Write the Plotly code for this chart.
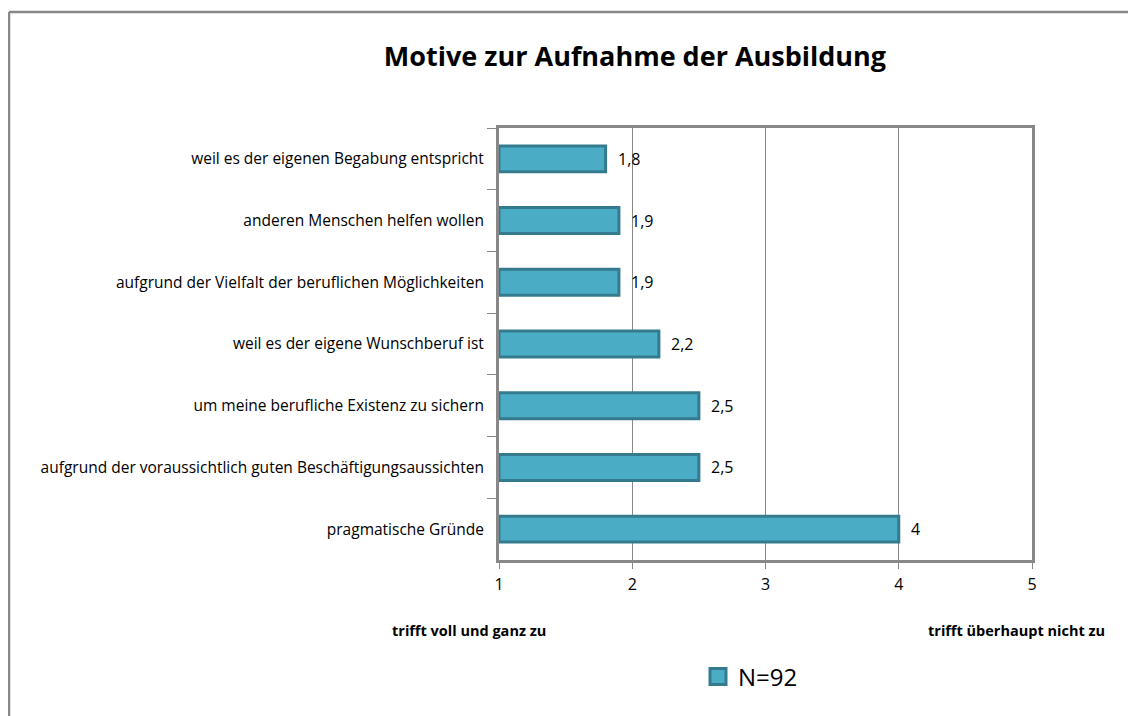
import plotly.graph_objects as go

categories = [
    "weil es der eigenen Begabung entspricht",
    "anderen Menschen helfen wollen",
    "aufgrund der Vielfalt der beruflichen Möglichkeiten",
    "weil es der eigene Wunschberuf ist",
    "um meine berufliche Existenz zu sichern",
    "aufgrund der voraussichtlich guten Beschäftigungsaussichten",
    "pragmatische Gründe",
]
values = [1.8, 1.9, 1.9, 2.2, 2.5, 2.5, 4]
x_ticks = [1, 2, 3, 4, 5]
series_name = "N=92"

FONT = "Open Sans"
base = 1
BAR = "#4BACC6"
EDGE = "#347B8E"

# figure is placed at (8,8) in the page by the browser body margin
W, H = 1128, 708
L, T = 491, 120
PW, PH = 533, 432
R = W - L - PW
B = H - T - PH


def px(xf):
    return (xf - L) / PW


def py(yf):
    return 1 - (yf - T) / PH


fig = go.Figure()
fig.add_trace(go.Bar(
    y=categories,
    x=[v - base for v in values],
    base=base,
    orientation="h",
    name=series_name,
    showlegend=False,
    marker=dict(color=BAR, line=dict(color=EDGE, width=3)),
    width=0.42,
    hoverinfo="skip",
))
# legend-only entry with a larger square symbol
fig.add_trace(go.Scatter(
    x=[None], y=[None], mode="markers", name=series_name,
    marker=dict(symbol="square", size=16, color=BAR, line=dict(color=EDGE, width=3)),
    showlegend=True,
))

annotations = []
for c, v in zip(categories, values):
    annotations.append(dict(
        x=v, y=c, xref="x", yref="y", text=("%g" % v).replace(".", ","),
        showarrow=False, xanchor="left", yanchor="middle", xshift=10,
        font=dict(family=FONT, size=16, color="#000")))

annotations += [
    dict(text="<b>trifft voll und ganz zu</b>", xref="paper", yref="paper",
         x=px(461), y=py(622), xanchor="center", yanchor="middle",
         showarrow=False, font=dict(family=FONT, size=14.5, color="#000")),
    dict(text="<b>trifft überhaupt nicht zu</b>", xref="paper", yref="paper",
         x=px(1008), y=py(622), xanchor="center", yanchor="middle",
         showarrow=False, font=dict(family=FONT, size=14.5, color="#000")),
]

fig.update_layout(
    width=W, height=H,
    margin=dict(l=L, r=R, t=T, b=B),
    paper_bgcolor="white", plot_bgcolor="white",
    font=dict(family=FONT, size=15.5, color="#000"),
    title=dict(text="<b>Motive zur Aufnahme der Ausbildung</b>",
               x=627 / W, xanchor="center", y=1 - 49 / H, yanchor="middle",
               font=dict(family=FONT, size=27, color="#000")),
    showlegend=True,
    legend=dict(x=px(690), xanchor="left", y=py(669), yanchor="middle",
                orientation="h", font=dict(family=FONT, size=24, color="#000"),
                bgcolor="rgba(0,0,0,0)"),
    xaxis=dict(range=[1, 5], tickvals=x_ticks, ticktext=[str(t) for t in x_ticks],
               showgrid=True, gridcolor="#888", gridwidth=1,
               showline=True, linecolor="#888", linewidth=3, mirror=True,
               ticks="outside", ticklen=6, tickcolor="#888", tickwidth=1,
               tickfont=dict(family=FONT, size=16), zeroline=False,
               ticklabelstandoff=2),
    yaxis=dict(autorange="reversed", type="category",
               showline=True, linecolor="#888", linewidth=3, mirror=True,
               ticks="outside", ticklen=9, tickcolor="#888", tickwidth=1,
               tickson="boundaries", showgrid=False,
               tickfont=dict(family=FONT, size=15.5), ticklabelstandoff=9),
    annotations=annotations,
    shapes=[
        dict(type="line", xref="paper", yref="paper",
             x0=px(1), x1=px(W + 10), y0=py(4), y1=py(4),
             line=dict(color="#888", width=2.5)),
        dict(type="line", xref="paper", yref="paper",
             x0=px(1), x1=px(1), y0=py(4), y1=py(H + 10),
             line=dict(color="#888", width=2.5)),
    ],
)

fig.write_html("out.html")
